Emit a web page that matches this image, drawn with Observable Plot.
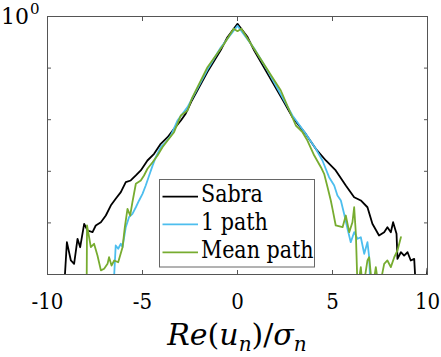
<!DOCTYPE html>
<html><head><meta charset="utf-8">
<script src="https://cdn.jsdelivr.net/npm/d3@7"></script>
<script src="https://cdn.jsdelivr.net/npm/@observablehq/plot@0.6"></script>
<style>
body{margin:0;background:#fff;}
</style>
</head><body><div id="chart"></div>
<script>
const seriesNames = ["Sabra", "1 path", "Mean path"];
const seriesColors = ["#000000", "#4DBEEE", "#77AC30"];
const xTicks = [-10, -5, 0, 5, 10];
const yTicks = [1e-5, 1e-4, 1e-3, 1e-2, 1e-1, 1];
const xLabel = ["Re", "(", "u", "n", ")/", "σ", "n"];

const sabraX = [-9.13,-8.98,-8.77,-8.60,-8.42,-8.28,-8.07,-7.89,-7.63,-7.46,-7.19,-6.93,-6.67,-6.41,-6.14,-5.88,-5.62,-5.35,-5.09,-4.74,-4.39,-4.04,-3.68,-3.34,-2.98,-2.72,-2.40,-1.58,-0.88,-0.53,0,0.53,0.88,1.58,2.40,2.89,3.59,4.12,4.65,5.17,5.70,6.14,6.49,6.84,7.10,7.45,7.72,7.89,8.07,8.19,8.37,8.42,8.60,8.77,8.95,9.12,9.30,9.39,9.90,10.0];
const sabraP = [5e-6,4.23e-5,1.87e-5,1.61e-5,4.92e-5,3.38e-5,9.61e-5,7.13e-5,6.61e-5,8.91e-5,1.03e-4,1.39e-4,2.17e-4,2.93e-4,3.94e-4,6.15e-4,6.64e-4,8.30e-4,1.04e-3,1.62e-3,2.18e-3,3.41e-3,4.58e-3,6.66e-3,9.64e-3,0.0132,0.0236,0.0848,0.224,0.397,0.72,0.40,0.219,0.078,0.0236,0.0112,0.0053,0.00273,0.00162,0.00104,5.31e-4,3.15e-4,2.72e-4,2.01e-4,9.61e-5,5.7e-5,6.61e-5,8.26e-5,6.61e-5,1.03e-4,6.15e-5,2.01e-5,2.70e-5,2.33e-5,2.70e-5,1.87e-5,2.01e-5,5e-6,5e-6,1.3e-5];

const onePathX = [-6.53,-6.41,-6.28,-6.14,-6.05,-5.88,-5.71,-5.53,-5.35,-5.18,-5.00,-4.83,-4.65,-4.47,-4.30,-4.04,-3.77,-3.51,-3.16,-2.63,-1.58,-0.88,0,0.88,1.58,2.40,2.89,3.59,4.12,4.47,4.82,5.09,5.26,5.44,5.61,5.79,5.96,6.14,6.32,6.49,6.67,6.84,6.93,7.00];
const onePathP = [5e-6,3.65e-5,3.15e-5,3.94e-5,3.38e-5,8.26e-5,1.29e-4,1.50e-4,2.01e-4,2.72e-4,3.66e-4,5.31e-4,8.30e-4,1.29e-3,1.88e-3,2.93e-3,3.66e-3,4.94e-3,9.64e-3,0.0175,0.094,0.251,0.66,0.240,0.0898,0.0258,0.0121,0.00533,0.00273,0.00162,7.69e-4,5.31e-4,3.40e-4,2.72e-4,1.50e-4,7.69e-5,4.23e-5,6.61e-5,4.92e-5,5.28e-5,2.52e-5,4.23e-5,2.16e-5,5e-6];

const meanPathX = [-7.94,-7.92,-7.81,-7.72,-7.55,-7.37,-7.19,-7.02,-6.84,-6.76,-6.63,-6.49,-6.28,-6.05,-5.93,-5.79,-5.65,-5.53,-5.35,-5.09,-4.92,-4.74,-4.47,-4.21,-3.95,-3.68,-3.34,-2.98,-2.63,-2.40,-1.58,-0.70,-0.20,0,0.20,0.70,2.28,3.07,3.42,3.68,4.04,4.39,4.56,4.74,4.91,5.00,5.17,5.53,5.70,5.88,6.05,6.14,6.23,6.32,6.49,6.60,6.84,6.93,7.10,7.28,7.45,7.72,7.89,8.07,8.25,8.42,8.60];
const meanPathP = [5e-6,8.91e-5,5.28e-5,3.38e-5,3.94e-5,2.33e-5,1.2e-5,1.29e-5,1.61e-5,2.16e-5,1.49e-5,1.87e-5,1.73e-5,3.38e-5,8.26e-5,1.87e-4,1.39e-4,2.52e-4,5.73e-4,6.64e-4,8.30e-4,1.12e-3,1.50e-3,2.02e-3,2.93e-3,3.95e-3,5.73e-3,0.0121,0.0151,0.0258,0.104,0.296,0.578,0.519,0.578,0.296,0.0368,0.00772,0.00573,0.00395,0.00202,0.0012,8.95e-4,4.92e-4,2.72e-4,1.87e-4,8.91e-5,8.26e-5,1.39e-4,6.61e-5,1.03e-4,2.01e-4,6.15e-5,5e-6,1.39e-5,5e-6,1.87e-5,2.16e-5,5e-6,1.39e-5,5e-6,1.61e-5,1.87e-5,1.39e-5,2.16e-5,2.92e-5,5.28e-5];

const toRows = (xs, ps) => xs.map((x, i) => ({x, p: ps[i]}));
const series = [toRows(sabraX, sabraP), toRows(onePathX, onePathP), toRows(meanPathX, meanPathP)];

const FONT = "'DejaVu Serif', serif";
const frameColor = "#555";
const plot = Plot.plot({
  width: 441, height: 357,
  marginLeft: 47, marginRight: 14, marginTop: 16, marginBottom: 83,
  x: {domain: [-10, 10]},
  y: {type: "log", domain: [1e-5, 1]},
  style: {fontFamily: FONT, fontSize: "22px", background: "white", color: "#000"},
  marks: [
    ...series.map((d, i) => Plot.line(d, {x: "x", y: "p", stroke: seriesColors[i], strokeWidth: 1.8, clip: true})),
    Plot.frame({stroke: frameColor, strokeWidth: 1}),
    Plot.axisX({anchor: "bottom", ticks: xTicks, tickSize: -4, fill: "none", stroke: frameColor, label: null}),
    Plot.axisX({anchor: "top", ticks: xTicks, tickSize: -4, fill: "none", stroke: frameColor, label: null}),
    Plot.axisY({anchor: "left", ticks: yTicks, tickSize: -4, fill: "none", stroke: frameColor, label: null}),
    Plot.axisY({anchor: "right", ticks: yTicks, tickSize: -4, fill: "none", stroke: frameColor, label: null}),
    Plot.axisX({anchor: "bottom", ticks: xTicks, tickSize: 0, tickPadding: 19, tickFormat: d => String(d), fill: "#000", fontSize: 22, label: null})
  ]
});
document.getElementById("chart").appendChild(plot);

const svg = d3.select(plot);
const xs = plot.scale("x"), ys = plot.scale("y");

// narrow the wide serif glyphs toward the reference's proportions
function condense(sel, f) {
  sel.each(function () {
    const w = this.getComputedTextLength();
    d3.select(this).attr("textLength", w * f).attr("lengthAdjust", "spacingAndGlyphs");
  });
}
condense(svg.selectAll('g[aria-label="x-axis tick label"] text'), 0.9);

// y tick label 10^0
const yTop = ys.apply(1);
svg.append("text").attr("x", 1).attr("y", yTop + 8).attr("text-anchor", "start")
  .attr("font-size", 22).attr("fill", "#000").attr("font-family", FONT).text("10");
svg.append("text").attr("x", 30).attr("y", yTop - 2.5).attr("text-anchor", "start")
  .attr("font-size", 15).attr("fill", "#000").attr("font-family", FONT).text("0");

// x label
const xc = xs.apply(0);
const xt = svg.append("text").attr("x", xc).attr("y", 345).attr("text-anchor", "middle")
  .attr("font-size", 30).attr("fill", "#000").attr("font-family", FONT);
xt.append("tspan").attr("font-style", "italic").text(xLabel[0]);
xt.append("tspan").text(xLabel[1]);
xt.append("tspan").attr("font-style", "italic").text(xLabel[2]);
xt.append("tspan").attr("font-style", "italic").attr("font-size", 20).attr("dy", 6).text(xLabel[3]);
xt.append("tspan").attr("dy", -6).text(xLabel[4]);
xt.append("tspan").attr("font-style", "italic").text(xLabel[5]);
xt.append("tspan").attr("font-style", "italic").attr("font-size", 20).attr("dy", 6).text(xLabel[6]);

// legend
const lg = svg.append("g");
lg.append("rect").attr("x", 159.5).attr("y", 179.5).attr("width", 155).attr("height", 87.5)
  .attr("fill", "#fff").attr("stroke", "#666").attr("stroke-width", 1);
const rowY = [196.7, 224.3, 252.3];
seriesNames.forEach((name, i) => {
  lg.append("line").attr("x1", 162.5).attr("x2", 198).attr("y1", rowY[i]).attr("y2", rowY[i])
    .attr("stroke", seriesColors[i]).attr("stroke-width", 1.8);
  const t = lg.append("text").attr("x", 201).attr("y", rowY[i] + 5.5).attr("text-anchor", "start")
    .attr("font-size", 24).attr("fill", "#000").attr("font-family", FONT).text(name);
  condense(t, 0.86);
});
</script>
</body></html>
